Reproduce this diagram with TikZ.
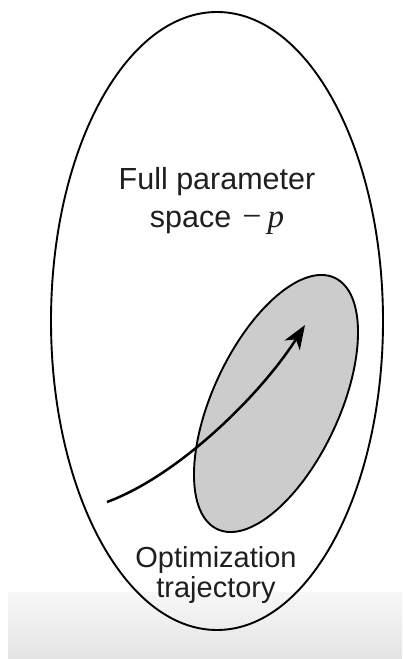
\documentclass[tikz,border=0pt]{standalone}
\usepackage{fontspec}
\setmainfont{Liberation Sans}
\newfontfamily\pserif{Liberation Serif}
\usetikzlibrary{arrows.meta}
\definecolor{regiongray}{HTML}{CCCCCC}
\definecolor{striptop}{HTML}{F7F7F7}
\definecolor{stripbot}{HTML}{E4E4E4}
\tikzset{
  outline/.style={draw=black, line width=1.9pt},
  inner region/.style={draw=black, line width=1.9pt, fill=regiongray},
  trajectory/.style={draw=black, line width=2.5pt, -{Stealth[length=24pt, width=18pt, inset=7pt]}},
  label/.style={align=center, inner sep=0pt, text=black!88},
}
\begin{document}
\begin{tikzpicture}[x=1pt, y=1pt]
  \useasboundingbox (0,0) rectangle (402,659);
  \fill[white] (0,0) rectangle (402,659);
  % screenshot strip at the bottom
  \shade[top color=striptop, bottom color=stripbot] (8,0) rectangle (402,66);
  % full parameter space
  \draw[outline] (217,338) ellipse [x radius=166, y radius=309];
  % subspace
  \draw[inner region] (276,255.5) ellipse [x radius=138.7, y radius=63.3, rotate=65];
  % trajectory
  \coordinate (start) at (107,157);
  \coordinate (tip) at (305,334);
  \draw[trajectory] (start) .. controls (180,184) and (262,266) .. (tip);
  % labels
  \node[label, font=\fontsize{30.5}{38}\selectfont, anchor=base] (full) at (217,431)
    {Full parameter\\space\hspace{11pt}{\pserif\fontsize{34}{38}\selectfont −}\hspace{6pt}{\pserif\itshape\fontsize{33}{38}\selectfont p}};
  \node[label, font=\fontsize{29}{30}\selectfont, anchor=base] (opt) at (216,61)
    {Optimization\\trajectory};
\end{tikzpicture}
\end{document}
